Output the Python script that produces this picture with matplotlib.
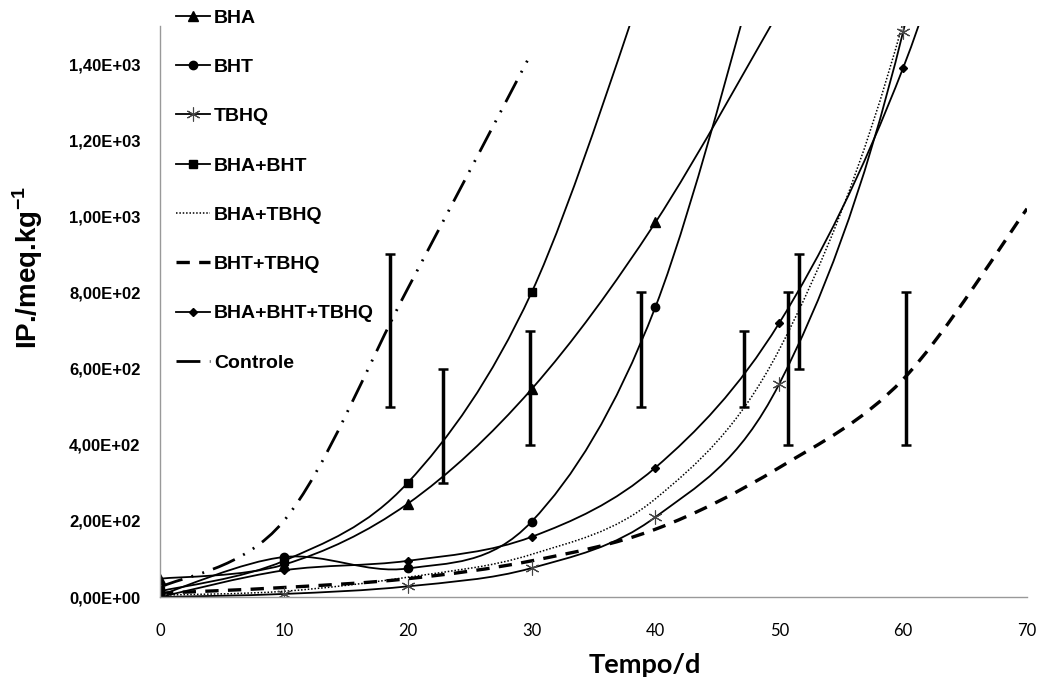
import numpy as np
import matplotlib.pyplot as plt
from matplotlib.path import Path
from matplotlib.patches import PathPatch
from matplotlib.lines import Line2D
from matplotlib.ticker import FuncFormatter, MultipleLocator

plt.rcParams['mathtext.fontset'] = 'custom'
plt.rcParams['mathtext.bf'] = 'Liberation Sans:bold'
plt.rcParams['mathtext.rm'] = 'Liberation Sans:bold'

# Tempo (dias) e indice de peroxidos por serie
bha_x = [0, 10, 20, 30, 40, 50]
bha_y = [48, 85, 245, 546, 984, 1540]

bht_x = [0, 10, 20, 30, 40, 50]
bht_y = [5, 105, 75, 198, 762, 1870]

tbhq_x = [0, 10, 20, 30, 40, 50, 60, 70]
tbhq_y = [0, 8, 28, 76, 210, 560, 1485, 3200]

bha_bht_x = [0, 10, 20, 30, 40]
bha_bht_y = [15, 95, 300, 800, 1700]

bha_tbhq_x = [0, 10, 20, 30, 40, 50, 60, 70]
bha_tbhq_y = [5, 15, 52, 112, 258, 650, 1510, 3000]

bht_tbhq_x = [0, 10, 20, 30, 40, 50, 60, 70]
bht_tbhq_y = [10, 25, 48, 95, 178, 340, 572, 1020]

trio_x = [0, 10, 20, 30, 40, 50, 60, 70]
trio_y = [0, 70, 95, 158, 340, 720, 1390, 2400]

controle_x = [0, 10, 20, 30]
controle_y = [25, 200, 810, 1430]

# barras de erro (posicao, minimo, maximo)
err_x = [18.6, 22.85, 29.9, 38.8, 47.15, 50.7, 51.6, 60.2]
err_low = [500, 300, 400, 500, 500, 400, 600, 400]
err_high = [900, 600, 700, 800, 700, 800, 900, 800]


def smooth_path(x, y):
    # curva suavizada (bezier, estilo Excel) passando pelos pontos
    pts = np.column_stack([x, y]).astype(float)
    verts = [pts[0]]
    codes = [Path.MOVETO]
    n = len(pts)
    for i in range(n - 1):
        p0 = pts[i - 1] if i > 0 else pts[i]
        p1 = pts[i]
        p2 = pts[i + 1]
        p3 = pts[i + 2] if i + 2 < n else pts[i + 1]
        verts += [p1 + (p2 - p0) / 6, p2 - (p3 - p1) / 6, p2]
        codes += [Path.CURVE4] * 3
    return Path(verts, codes)


fig = plt.figure(figsize=(10.42, 6.89), dpi=100)
ax = fig.add_axes([160 / 1042, 1 - 597 / 689, 867 / 1042, 571 / 689])

asterisk = (6, 2, 0)
series = [
    ('BHA', bha_x, bha_y, dict(ls='-', lw=1.3), dict(marker='^', ms=7)),
    ('BHT', bht_x, bht_y, dict(ls='-', lw=1.3), dict(marker='o', ms=6)),
    ('TBHQ', tbhq_x, tbhq_y, dict(ls='-', lw=1.3), dict(marker=asterisk, ms=10, mew=0.8, mec='#444444')),
    ('BHA+BHT', bha_bht_x, bha_bht_y, dict(ls='-', lw=1.3), dict(marker='s', ms=6)),
    ('BHA+TBHQ', bha_tbhq_x, bha_tbhq_y, dict(ls=(0, (1, 1.2)), lw=1.1), dict(marker=None)),
    ('BHT+TBHQ', bht_tbhq_x, bht_tbhq_y, dict(ls=(0, (4, 2.8)), lw=2.4), dict(marker=None)),
    ('BHA+BHT+TBHQ', trio_x, trio_y, dict(ls='-', lw=1.3), dict(marker='D', ms=4)),
    ('Controle', controle_x, controle_y, dict(ls=(0, (8.6, 3.4, 0.7, 3.4, 0.7, 3.4)), lw=2.0), dict(marker=None)),
]

handles = []
for name, x, y, lstyle, mstyle in series:
    ax.add_patch(PathPatch(smooth_path(x, y), fill=False, ec='black',
                           linestyle=lstyle['ls'], lw=lstyle['lw']))
    if mstyle['marker'] is not None:
        ax.plot(x, y, ls='none', color='black', **mstyle)
    handles.append(Line2D([], [], color='black', linestyle=lstyle['ls'],
                          lw=lstyle['lw'], **mstyle, label=name))

err_x = np.array(err_x)
err_mid = (np.array(err_low) + np.array(err_high)) / 2
err_half = (np.array(err_high) - np.array(err_low)) / 2
ax.errorbar(err_x, err_mid, yerr=err_half, fmt='none', ecolor='black',
            elinewidth=2.5, capsize=3.5, capthick=1.8)

ax.set_xlim(0, 70)
ax.set_ylim(0, 1500)
ax.xaxis.set_major_locator(MultipleLocator(10))
ax.yaxis.set_major_locator(MultipleLocator(200))
ax.yaxis.set_major_formatter(FuncFormatter(lambda v, p: f"{v:.2E}".replace('.', ',')))

for s in ['top', 'right']:
    ax.spines[s].set_visible(False)
for s in ['left', 'bottom']:
    ax.spines[s].set_color('#999999')
    ax.spines[s].set_linewidth(1)

ax.tick_params(axis='both', length=0)
ax.tick_params(axis='x', pad=19)
ax.tick_params(axis='y', pad=14)
for lab in ax.get_xticklabels():
    lab.set_family('Lato')
    lab.set_fontsize(12)
for lab in ax.get_yticklabels():
    lab.set_family('Liberation Sans')
    lab.set_fontweight('bold')
    lab.set_fontsize(12)

ax.set_xlabel('Tempo/d', family='Lato', fontweight='bold', fontsize=19.5, va='center')
ax.xaxis.set_label_coords((645 - 160) / 867, (597 - 665) / 571)
ax.set_ylabel(r'IP./meq.kg$^{\mathbf{-1}}$', family='Liberation Sans', fontweight='bold',
              fontsize=20, va='center')
ax.yaxis.set_label_coords((28 - 160) / 867, (597 - 268) / 571)

leg = ax.legend(handles=handles, loc='upper left',
                bbox_to_anchor=(176 / 1042, 1 - 9 / 689), bbox_transform=fig.transFigure,
                frameon=False, borderpad=0, borderaxespad=0, handlelength=1.75,
                handletextpad=0.2, labelspacing=1.63,
                prop={'family': 'Liberation Sans', 'weight': 'bold', 'size': 14})
leg.set_clip_on(False)

fig.savefig('out.png', dpi=100)
